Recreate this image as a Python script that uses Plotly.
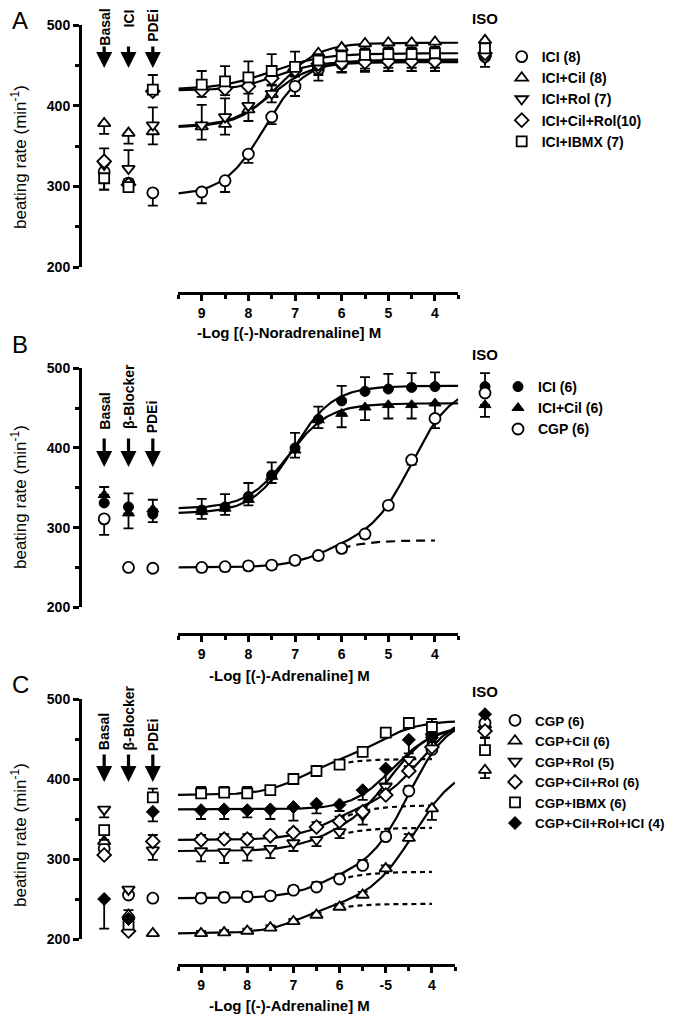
import numpy as np
import plotly.graph_objects as go

W, H = 675, 1015
FONT = "Liberation Sans"

# ---------------- shared values ----------------
dose = [9, 8.5, 8, 7.5, 7, 6.5, 6, 5.5, 5, 4.5, 4]
x_tickvals = [9, 8, 7, 6, 5, 4]
x_ticktext_ab = ["9", "8", "7", "6", "5", "4"]
x_ticktext_c = ["9", "8", "7", "6", "-5", "4"]
y_tickvals = [200, 300, 400, 500]
iso_label = ["ISO"]
x_titles = ["-Log [(-)-Noradrenaline] M", "-Log [(-)-Adrenaline] M", "-Log [(-)-Adrenaline] M"]
panel_letters = ["A", "B", "C"]

# ---------------- Panel A ----------------
a_conditions = ["Basal", "ICI", "PDEi"]
a_names = ["ICI (8)", "ICI+Cil (8)", "ICI+Rol (7)", "ICI+Cil+Rol(10)", "ICI+IBMX (7)"]
a_ici = [293, 307, 340, 386, 424, 445, 452, 456, 457, 457, 457]
a_ici_ep = [0] * 11
a_ici_em = [14, 14, 11, 9, 12, 14, 10, 10, 10, 10, 10]
a_cil = [374, 377, 395, 414, 446, 465, 472, 477, 478, 478, 479]
a_cil_ep = [0] * 11
a_cil_em = [16, 13, 14, 10, 8, 6, 6, 6, 6, 6, 6]
a_rol = [376, 386, 400, 415, 442, 446, 452, 454, 454, 454, 454]
a_rol_ep = [25, 23, 23, 10, 8, 0, 0, 0, 0, 0, 0]
a_rol_em = [0, 0, 0, 0, 0, 8, 10, 11, 11, 11, 11]
a_cilrol = [419, 421, 424, 434, 444, 452, 453, 454, 455, 455, 455]
a_cilrol_ep = [0] * 11
a_cilrol_em = [8, 8, 9, 8, 8, 8, 12, 12, 12, 12, 12]
a_ibmx = [426, 430, 435, 443, 448, 456, 461, 463, 464, 464, 465]
a_ibmx_ep = [17, 19, 20, 21, 19, 8, 6, 6, 6, 6, 6]
a_ibmx_em = [0] * 11
# Basal / ICI / PDEi columns
a_ici_left = [318, 304, 292]
a_ici_left_ep = [0, 5, 0]
a_ici_left_em = [22, 0, 16]
a_cil_left = [378, 366, 368]
a_cil_left_ep = [0, 0, 0]
a_cil_left_em = [13, 13, 16]
a_rol_left = [327, 322, 376]
a_rol_left_ep = [0, 23, 22]
a_rol_left_em = [0, 0, 0]
a_cilrol_left = [331, 302, 418]
a_cilrol_left_ep = [16, 0, 0]
a_cilrol_left_em = [0, 0, 0]
a_ibmx_left = [310, 299, 420]
a_ibmx_left_ep = [0, 0, 18]
a_ibmx_left_em = [14, 0, 0]
# ISO: ICI, ICI+Cil, ICI+Rol, ICI+Cil+Rol, ICI+IBMX
a_iso = [461, 481, 459, 465, 471]
a_iso_ep = [0, 0, 0, 0, 0]
a_iso_em = [0, 0, 11, 0, 0]
# fitted curves: bottom, amp1, pEC50_1, nH1, amp2, pEC50_2, nH2
a_fit_bottom = [289, 373, 374, 419, 420]
a_fit_amp1 = [168, 105, 80, 36, 45]
a_fit_p1 = [7.65, 7.35, 7.5, 7.4, 7.5]
a_fit_n1 = [1.0, 1.0, 1.0, 1.0, 0.8]
a_fit_amp2 = [0, 0, 0, 0, 0]
a_fit_p2 = [5, 5, 5, 5, 5]
a_fit_n2 = [1, 1, 1, 1, 1]
a_dashed = [False, False, False, False, False]
a_symbols = ["o", "^", "v", "d", "s"]

# ---------------- Panel B ----------------
b_conditions = ["Basal", "β-Blocker", "PDEi"]
b_names = ["ICI (6)", "ICI+Cil (6)", "CGP (6)"]
b_ici = [322, 326, 339, 366, 400, 436, 459, 471, 474, 476, 477]
b_ici_ep = [14, 16, 17, 16, 19, 16, 19, 18, 19, 18, 18]
b_ici_em = [0] * 11
b_cil = [320, 324, 335, 364, 397, 435, 443, 451, 454, 454, 456]
b_cil_ep = [0] * 11
b_cil_em = [9, 8, 7, 8, 9, 10, 17, 16, 17, 17, 17]
b_cgp = [250, 251, 252, 253, 259, 265, 274, 292, 328, 385, 437]
b_cgp_ep = [0] * 11
b_cgp_em = [5, 5, 5, 5, 5, 5, 5, 5, 5, 6, 12]
b_ici_left = [331, 326, 317]
b_ici_left_ep = [0, 17, 0]
b_ici_left_em = [0, 0, 10]
b_cil_left = [341, 318, 323]
b_cil_left_ep = [10, 0, 12]
b_cil_left_em = [0, 19, 0]
b_cgp_left = [311, 250, 249]
b_cgp_left_ep = [0, 0, 0]
b_cgp_left_em = [20, 3, 3]
b_iso = [477, 454, 469]
b_iso_ep = [17, 0, 0]
b_iso_em = [0, 15, 0]
b_fit_bottom = [318, 324, 250]
b_fit_amp1 = [160, 132, 34]
b_fit_p1 = [7.05, 7.15, 6.4]
b_fit_n1 = [1, 1, 1]
b_fit_amp2 = [0, 0, 195]
b_fit_p2 = [5, 5, 4.5]
b_fit_n2 = [1, 1, 1]
b_dashed = [False, False, True]
b_symbols = ["O", "A", "o"]

# ---------------- Panel C ----------------
c_conditions = ["Basal", "β-Blocker", "PDEi"]
c_names = ["CGP (6)", "CGP+Cil (6)", "CGP+Rol (5)", "CGP+Cil+Rol (6)", "CGP+IBMX (6)", "CGP+Cil+Rol+ICI (4)"]
c_cgp = [251, 252, 253, 254, 261, 265, 275, 292, 328, 385, 437]
c_cgp_ep = [6, 6, 6, 5, 5, 6, 6, 7, 6, 6, 8]
c_cgp_em = [0] * 11
c_cil = [207, 208, 210, 214, 222, 230, 240, 255, 288, 326, 363]
c_cil_ep = [3, 3, 3, 3, 3, 3, 4, 4, 4, 5, 0]
c_cil_em = [0, 0, 0, 0, 0, 0, 0, 0, 0, 0, 14]
c_rol = [310, 309, 311, 313, 320, 324, 334, 355, 391, 424, 453]
c_rol_ep = [0] * 11
c_rol_em = [13, 14, 13, 12, 10, 8, 8, 12, 10, 8, 6]
c_cilrol = [324, 325, 325, 329, 333, 340, 347, 359, 380, 410, 440]
c_cilrol_ep = [6, 6, 6, 4, 4, 6, 6, 5, 5, 5, 5]
c_cilrol_em = [0] * 11
c_ibmx = [382, 383, 382, 386, 400, 410, 418, 434, 458, 470, 465]
c_ibmx_ep = [8, 7, 8, 4, 4, 4, 4, 4, 4, 4, 10]
c_ibmx_em = [0] * 11
c_all = [361, 362, 361, 362, 365, 369, 368, 386, 413, 449, 452]
c_all_ep = [0] * 11
c_all_em = [11, 12, 9, 12, 17, 12, 8, 12, 19, 17, 10]
c_cgp_left = [313, 255, 251]
c_cgp_left_ep = [0, 0, 4]
c_cgp_left_em = [0, 0, 0]
c_cil_left = [322, 230, 207]
c_cil_left_ep = [0, 6, 0]
c_cil_left_em = [0, 0, 0]
c_rol_left = [362, 262, 311]
c_rol_left_ep = [0, 0, 0]
c_rol_left_em = [10, 0, 12]
c_cilrol_left = [305, 210, 322]
c_cilrol_left_ep = [0, 0, 8]
c_cilrol_left_em = [0, 0, 0]
c_ibmx_left = [336, 218, 377]
c_ibmx_left_ep = [0, 0, 11]
c_ibmx_left_em = [12, 0, 0]
c_all_left = [250, 225, 359]
c_all_left_ep = [0, 0, 0]
c_all_left_em = [37, 0, 12]
c_iso = [470, 411, 462, 460, 436, 481]
c_iso_ep = [0, 0, 0, 0, 15, 0]
c_iso_em = [0, 10, 10, 0, 0, 0]
c_fit_bottom = [251, 207, 310, 324, 380, 362]
c_fit_amp1 = [33, 37, 29, 43, 45, 103]
c_fit_p1 = [6.4, 6.8, 6.4, 6.2, 6.8, 4.85]
c_fit_n1 = [1, 1, 1, 1, 1, 1]
c_fit_amp2 = [195, 175, 128, 115, 48, 0]
c_fit_p2 = [4.5, 4.4, 4.9, 4.25, 5.1, 5]
c_fit_n2 = [1, 0.9, 1, 1, 1, 1]
c_dashed = [True, True, True, True, True, False]
c_symbols = ["o", "^", "v", "d", "s", "D"]

# ---------------- assemble tables from the named arrays ----------------
panel_A = dict(
    names=a_names, conds=a_conditions, symbols=a_symbols, dashed=a_dashed, ticktext=x_ticktext_ab,
    y=[a_ici, a_cil, a_rol, a_cilrol, a_ibmx],
    ep=[a_ici_ep, a_cil_ep, a_rol_ep, a_cilrol_ep, a_ibmx_ep],
    em=[a_ici_em, a_cil_em, a_rol_em, a_cilrol_em, a_ibmx_em],
    left=[a_ici_left, a_cil_left, a_rol_left, a_cilrol_left, a_ibmx_left],
    left_ep=[a_ici_left_ep, a_cil_left_ep, a_rol_left_ep, a_cilrol_left_ep, a_ibmx_left_ep],
    left_em=[a_ici_left_em, a_cil_left_em, a_rol_left_em, a_cilrol_left_em, a_ibmx_left_em],
    iso=a_iso, iso_ep=a_iso_ep, iso_em=a_iso_em,
    fit=list(zip(a_fit_bottom, a_fit_amp1, a_fit_p1, a_fit_n1, a_fit_amp2, a_fit_p2, a_fit_n2)),
)
panel_B = dict(
    names=b_names, conds=b_conditions, symbols=b_symbols, dashed=b_dashed, ticktext=x_ticktext_ab,
    y=[b_ici, b_cil, b_cgp], ep=[b_ici_ep, b_cil_ep, b_cgp_ep], em=[b_ici_em, b_cil_em, b_cgp_em],
    left=[b_ici_left, b_cil_left, b_cgp_left],
    left_ep=[b_ici_left_ep, b_cil_left_ep, b_cgp_left_ep],
    left_em=[b_ici_left_em, b_cil_left_em, b_cgp_left_em],
    iso=b_iso, iso_ep=b_iso_ep, iso_em=b_iso_em,
    fit=list(zip(b_fit_bottom, b_fit_amp1, b_fit_p1, b_fit_n1, b_fit_amp2, b_fit_p2, b_fit_n2)),
)
panel_C = dict(
    names=c_names, conds=c_conditions, symbols=c_symbols, dashed=c_dashed, ticktext=x_ticktext_c,
    y=[c_cgp, c_cil, c_rol, c_cilrol, c_ibmx, c_all],
    ep=[c_cgp_ep, c_cil_ep, c_rol_ep, c_cilrol_ep, c_ibmx_ep, c_all_ep],
    em=[c_cgp_em, c_cil_em, c_rol_em, c_cilrol_em, c_ibmx_em, c_all_em],
    left=[c_cgp_left, c_cil_left, c_rol_left, c_cilrol_left, c_ibmx_left, c_all_left],
    left_ep=[c_cgp_left_ep, c_cil_left_ep, c_rol_left_ep, c_cilrol_left_ep, c_ibmx_left_ep, c_all_left_ep],
    left_em=[c_cgp_left_em, c_cil_left_em, c_rol_left_em, c_cilrol_left_em, c_ibmx_left_em, c_all_left_em],
    iso=c_iso, iso_ep=c_iso_ep, iso_em=c_iso_em,
    fit=list(zip(c_fit_bottom, c_fit_amp1, c_fit_p1, c_fit_n1, c_fit_amp2, c_fit_p2, c_fit_n2)),
)
panels = [panel_A, panel_B, panel_C]

# ---------------- styles / geometry (screen pixels) ----------------
STY = {
    "o": dict(symbol="circle", size=11, color="white"),
    "^": dict(symbol="triangle-up", size=11, color="white"),
    "v": dict(symbol="triangle-down", size=11, color="white"),
    "d": dict(symbol="diamond", size=10.5, color="white"),
    "s": dict(symbol="square", size=10, color="white"),
    "O": dict(symbol="circle", size=10, color="black"),
    "A": dict(symbol="triangle-up", size=10.5, color="black"),
    "D": dict(symbol="diamond", size=10, color="black"),
}
# leg = (x where legend text starts, y of legend top)
GEOM = [
    dict(top=25, bot=267, xline=293, dl=178.4, dr=458.3, letter=21, xtitle=332, ytitle=157,
         lab=[27.5, 19, 25], arr=(45, 68), iso=18.5, leg=(541.7, 41), legfont=14, dash="9px,6px"),
    dict(top=368.3, bot=607.3, xline=634, dl=178.4, dr=458.3, letter=344, xtitle=675, ytitle=497,
         lab=[411.5, 396.5, 416.5], arr=(437, 467), iso=354.5, leg=(538, 371), legfont=14, dash="9px,6px"),
    dict(top=699, bot=939, xline=965, dl=178, dr=455, letter=684, xtitle=1005, ytitle=835,
         lab=[732, 718, 734.5], arr=(753, 782), iso=691.5, leg=(535, 705), legfont=13.5, dash="5px,4px"),
]
Y_AXIS_X = 80
LETTER_X = 20
CAT_DOMAIN = (92, 165)
ISO_DOMAIN = (473, 497)
PAGE_OFFSET = 8  # default body margin of the html page


def px(v):
    return (v - PAGE_OFFSET) / W


def py(v):
    return 1 - (v - PAGE_OFFSET) / H


def hill(x, bottom, a1, p1, n1, a2, p2, n2):
    x = np.asarray(x, float)
    return bottom + a1 / (1 + 10 ** (n1 * (x - p1))) + a2 / (1 + 10 ** (n2 * (x - p2)))


def err(ep, em):
    return dict(type="data", symmetric=False, array=ep, arrayminus=em,
                color="black", thickness=1.8, width=5)


fig = go.Figure()
layout = dict(template="none", width=W, height=H, margin=dict(l=0, r=0, t=0, b=0, pad=0, autoexpand=False),
              paper_bgcolor="white", plot_bgcolor="rgba(0,0,0,0)",
              font=dict(family=FONT, color="black"), showlegend=True)
annotations = []
grid = np.linspace(9.5, 3.5, 241)
grid_dash = np.linspace(6, 4, 81)

for i, (P, G) in enumerate(zip(panels, GEOM)):
    n = i + 1
    xd = "x" if n == 1 else f"x{n}"
    xc = f"x{n + 3}"
    xi = f"x{n + 6}"
    yy = "y" if n == 1 else f"y{n}"
    leg = "legend" if n == 1 else f"legend{n}"
    yname = "yaxis" if n == 1 else f"yaxis{n}"

    # fitted curves first (below markers)
    for k, fit in enumerate(P["fit"]):
        fig.add_trace(go.Scatter(x=grid, y=hill(grid, *fit), mode="lines",
                                 line=dict(color="black", width=2.2), xaxis=xd, yaxis=yy,
                                 showlegend=False, hoverinfo="skip"))
        if P["dashed"][k]:
            b, a1, p1, n1 = fit[:4]
            fig.add_trace(go.Scatter(x=grid_dash, y=hill(grid_dash, b, a1, p1, n1, 0, 5, 1), mode="lines",
                                     line=dict(color="black", width=2.2, dash=G["dash"]),
                                     xaxis=xd, yaxis=yy, showlegend=False, hoverinfo="skip"))

    for k, name in enumerate(P["names"]):
        s = STY[P["symbols"][k]]
        mk = dict(symbol=s["symbol"], size=s["size"], color=s["color"],
                  line=dict(color="black", width=1.8 if s["color"] == "white" else 1))
        fig.add_trace(go.Scatter(x=dose, y=P["y"][k], mode="markers", marker=mk, name=name,
                                 error_y=err(P["ep"][k], P["em"][k]), xaxis=xd, yaxis=yy,
                                 legend=leg, showlegend=True))
        fig.add_trace(go.Scatter(x=P["conds"], y=P["left"][k], mode="markers", marker=mk,
                                 error_y=err(P["left_ep"][k], P["left_em"][k]), xaxis=xc, yaxis=yy,
                                 showlegend=False))
        fig.add_trace(go.Scatter(x=iso_label, y=[P["iso"][k]], mode="markers", marker=mk,
                                 error_y=err([P["iso_ep"][k]], [P["iso_em"][k]]), xaxis=xi, yaxis=yy,
                                 showlegend=False))

    layout[yname] = dict(domain=[py(G["bot"]), py(G["top"])], range=[200, 500], anchor="free",
                         position=px(Y_AXIS_X), showline=True, linewidth=3, linecolor="black",
                         ticks="outside", ticklen=6, tickwidth=2.5, tickcolor="black",
                         tickvals=y_tickvals, tickfont=dict(size=14, weight="bold", family=FONT),
                         showgrid=False, zeroline=False, automargin=False,
                         minor=dict(dtick=50, tick0=0, ticks="outside", ticklen=4, tickwidth=2.5,
                                    tickcolor="black", showgrid=False))
    layout["xaxis" if n == 1 else f"xaxis{n}"] = dict(
        domain=[px(G["dl"]), px(G["dr"])], range=[9.5, 3.5], anchor="free", position=py(G["xline"]),
        showline=True, linewidth=3, linecolor="black", ticks="outside", ticklen=6, tickwidth=2.5,
        tickcolor="black", tickvals=x_tickvals, ticktext=P["ticktext"],
        tickfont=dict(size=14, weight="bold", family=FONT), showgrid=False, zeroline=False,
        automargin=False,
        minor=dict(dtick=0.5, tick0=0, ticks="outside", ticklen=4, tickwidth=2.5, tickcolor="black",
                   showgrid=False))
    layout[f"xaxis{n + 3}"] = dict(domain=[px(CAT_DOMAIN[0]), px(CAT_DOMAIN[1])], type="category",
                                   categoryarray=P["conds"], range=[-0.5, 2.5], anchor=yy, visible=False,
                                   automargin=False)
    layout[f"xaxis{n + 6}"] = dict(domain=[px(ISO_DOMAIN[0]), px(ISO_DOMAIN[1])], type="category",
                                   categoryarray=iso_label, range=[-0.5, 0.5], anchor=yy, visible=False,
                                   automargin=False)
    layout[leg] = dict(x=px(G["leg"][0] - 40), y=py(G["leg"][1]), xanchor="left", yanchor="top",
                       bgcolor="rgba(0,0,0,0)", font=dict(size=G["legfont"], weight="bold", family=FONT),
                       tracegroupgap=0, itemclick=False, borderwidth=0)

    # texts
    C = dict(xanchor="center", yanchor="middle", showarrow=False)
    annotations.append(dict(text=panel_letters[i], xref="paper", yref="paper", x=px(LETTER_X),
                            y=py(G["letter"]), font=dict(size=24, family=FONT), **C))
    annotations.append(dict(text=x_titles[i], xref="paper", yref="paper", x=px(289), y=py(G["xtitle"]),
                            font=dict(size=15, weight="bold", family=FONT), **C))
    annotations.append(dict(text="beating rate (min<sup>-1</sup>)", xref="paper", yref="paper", x=px(19),
                            y=py(G["ytitle"]), textangle=-90, font=dict(size=17, family=FONT), **C))
    annotations.append(dict(text=iso_label[0], xref=xi, x=iso_label[0], yref="paper", y=py(G["iso"]),
                            font=dict(size=15, weight="bold", family=FONT), **C))
    for j, cond in enumerate(P["conds"]):
        annotations.append(dict(text=cond, xref=xc, x=cond, yref="paper", y=py(G["lab"][j]),
                                textangle=-90, font=dict(size=14, weight="bold", family=FONT), **C))
        tail, tip = G["arr"]
        annotations.append(dict(text="", xref=xc, x=cond, yref="paper", y=py(tip), ax=0, ay=-(tip - tail),
                                showarrow=True, arrowhead=2, arrowsize=1, arrowwidth=3.2,
                                arrowcolor="black", standoff=0))

layout["annotations"] = annotations
fig.update_layout(**layout)
fig.write_html("out.html")
